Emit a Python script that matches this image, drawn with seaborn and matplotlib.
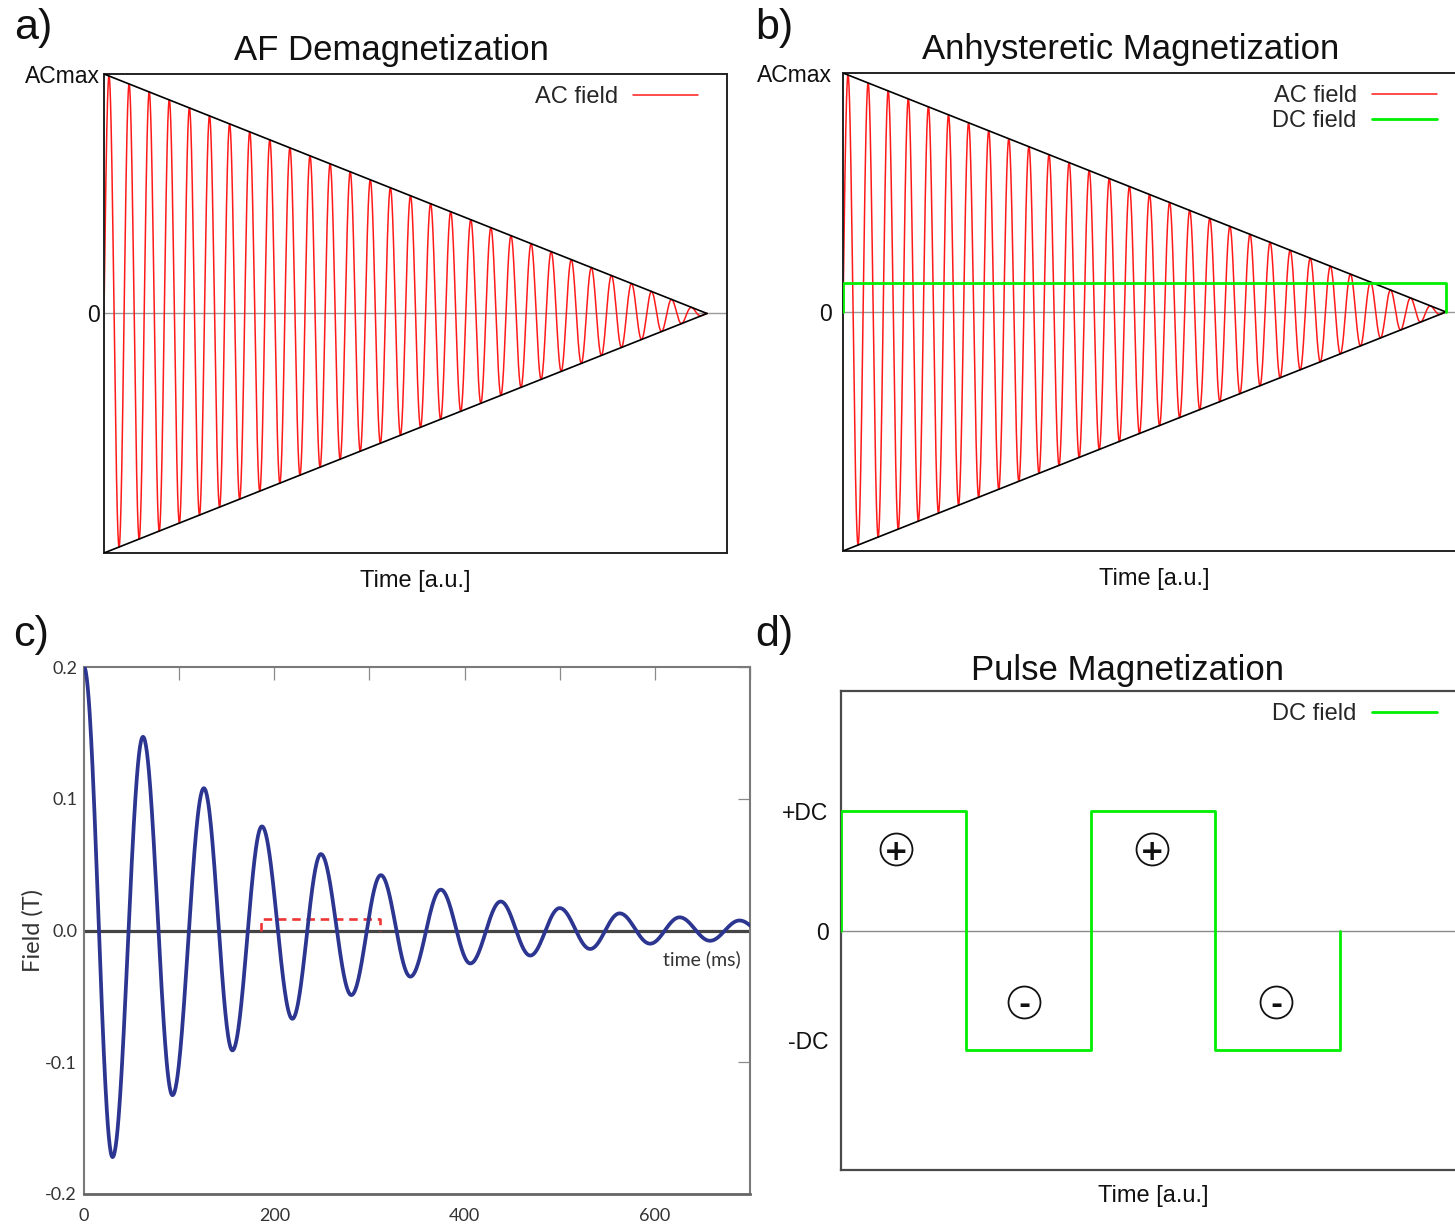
import numpy as np
import pandas as pd
import matplotlib
matplotlib.use("Agg")
import matplotlib.pyplot as plt
import matplotlib.transforms as mtransforms
import seaborn as sns

# ---------------------------------------------------------------- data
# a) / b) decaying AC field (normalised units)
ac_max = 1.0          # peak field at the start of the ramp
ac_cycles = 30        # number of AC cycles until the field reaches zero
ramp_end = 1.0        # time at which the AC envelope reaches zero
dc_bias_b = 0.12      # DC bias field in panel b, as fraction of ACmax
ramp_ytick_vals = [0, 1]
ramp_ytick_labels = ["0", "ACmax"]

# c) ringing field of the pulse coil: extrema (time in ms, field in T)
ring_t = [0, 30, 62, 93, 126, 156, 187, 219, 249, 281, 312, 343, 375,
          406, 438, 469, 500, 532, 563, 595, 626, 658, 689, 720]
ring_field = [0.200, -0.172, 0.147, -0.125, 0.108, -0.091, 0.079, -0.067,
              0.058, -0.049, 0.042, -0.035, 0.031, -0.025, 0.022, -0.019,
              0.017, -0.014, 0.013, -0.010, 0.010, -0.0078, 0.0076, -0.0060]
window_t = [186, 311]     # ms, dashed window
window_h = 0.009          # T
c_xticks = [0, 100, 200, 300, 400, 500, 600, 700]
c_xticklabels = ["0", "", "200", "", "400", "", "600", ""]
c_yticks = [-0.2, -0.1, 0.0, 0.1, 0.2]
c_yticklabels = ["-0.2", "-0.1", "0.0", "0.1", "0.2"]

# d) pulse train (levels in units of DC)
pulse_edges = [0, 1, 2, 3, 4]
pulse_levels = [1, -1, 1, -1]
sign_x = [0.44, 1.47, 2.49, 3.49]
sign_y = [0.68, -0.60, 0.68, -0.60]
sign_txt = ["+", "-", "+", "-"]
d_ytick_vals = [-1, 0, 1]
d_ytick_labels = ["-DC", "0", "+DC"]

# ---------------------------------------------------------------- style
sns.set_theme(style="white")
plt.rcParams["font.family"] = ["Liberation Sans", "DejaVu Sans"]
plt.rcParams["axes.unicode_minus"] = False

W, H = 1455, 1226
fig = plt.figure(figsize=(W / 100, H / 100), dpi=100)

RED = "#ff1a1a"
GREEN = "#00ee00"
BLUE = "#2c3590"
TITLE_SIZE = 25


def px_axes(x0, y0, x1, y1):
    return fig.add_axes([x0 / W, 1 - y1 / H, (x1 - x0) / W, (y1 - y0) / H])


ax_a = px_axes(104, 74, 727, 553)
ax_b = px_axes(843, 73, 1466, 551)
ax_c = px_axes(84, 667, 750, 1194)
ax_d = px_axes(841, 691, 1466, 1170)

# decaying AC wave and its envelope
t_wave = np.linspace(0, ramp_end, 9001)
env = ac_max * (1 - t_wave / ramp_end)
wave = env * np.sin(2 * np.pi * ac_cycles * t_wave / ramp_end)
ac_df = pd.DataFrame({"t": t_wave, "field": wave})


def ramp_panel(ax, title):
    ax.set_xlim(0, 623 / 603 * ramp_end)
    ax.set_ylim(-ac_max, ac_max)
    ax.axhline(0, color="#9a9a9a", lw=1.0, zorder=1)
    sns.lineplot(data=ac_df, x="t", y="field", ax=ax, color=RED, lw=1.1,
                 sort=False, estimator=None, label="AC field", zorder=2)
    for sgn in (1, -1):
        sns.lineplot(x=[0, ramp_end], y=[sgn * ac_max, 0], ax=ax,
                     color="black", lw=1.2, sort=False, estimator=None,
                     zorder=4)
    ax.set_xticks([])
    ax.set_yticks(ramp_ytick_vals)
    ax.set_yticklabels(ramp_ytick_labels)
    ax.set_xlabel("Time [a.u.]", fontsize=17, labelpad=12.5, color="#111")
    ax.set_ylabel("")
    ax.set_title(title, fontsize=TITLE_SIZE, x=0.462, pad=10, color="#111")
    for s in ax.spines.values():
        s.set_color("#222")
        s.set_linewidth(1.4)


def place_legend(ax, width_px, height_px, names):
    handles, labels = ax.get_legend_handles_labels()
    keep = [(h, l) for h, l in zip(handles, labels) if l in names]
    ax.legend([k[0] for k in keep], [k[1] for k in keep],
              loc="upper right",
              bbox_to_anchor=(1 - 29 / width_px, 1 - 12 / height_px),
              borderaxespad=0, borderpad=0, frameon=False, markerfirst=False,
              handlelength=2.75, handletextpad=0.65, labelspacing=0.12,
              fontsize=17)


# ---- a) AF demagnetization
ramp_panel(ax_a, "AF Demagnetization")
ax_a.tick_params(axis="y", length=0, pad=3, labelsize=16.5, labelcolor="#111")
place_legend(ax_a, 623, 479, ["AC field"])

# ---- b) anhysteretic magnetization
ramp_panel(ax_b, "Anhysteretic Magnetization")
sns.lineplot(x=[0, 0, ramp_end, ramp_end], y=[0, dc_bias_b, dc_bias_b, 0],
             ax=ax_b, color=GREEN, lw=2.0, sort=False, estimator=None,
             label="DC field", zorder=5)
ax_b.set_ylabel("")
ax_b.tick_params(axis="y", length=0, pad=8, labelsize=16.5, labelcolor="#111")
place_legend(ax_b, 623, 478, ["AC field", "DC field"])

# ---- c) ringing pulse field
tk = np.asarray(ring_t, float)
vk = np.asarray(ring_field, float)
seg_t, seg_v = [], []
for i in range(len(tk) - 1):
    s = np.linspace(0, 1, 60, endpoint=False)
    seg_t.append(tk[i] + (tk[i + 1] - tk[i]) * s)
    seg_v.append(vk[i] + (vk[i + 1] - vk[i]) * (1 - np.cos(np.pi * s)) / 2)
seg_t.append([tk[-1]])
seg_v.append([vk[-1]])
ring_df = pd.DataFrame({"time": np.concatenate(seg_t),
                        "field": np.concatenate(seg_v)})

ax_c.set_xlim(0, 700)
ax_c.set_ylim(-0.2, 0.2)
ax_c.axhline(0, color="#444444", lw=2.3, zorder=1)
sns.lineplot(data=ring_df, x="time", y="field", ax=ax_c, color=BLUE, lw=2.7,
             sort=False, estimator=None, zorder=3)
sns.lineplot(x=[window_t[0], window_t[0], window_t[1], window_t[1]],
             y=[0, window_h, window_h, 0], ax=ax_c, color="#ee3535", lw=1.9,
             sort=False, estimator=None, dashes=False, zorder=2,
             linestyle=(0, (3.2, 2.2)))
ax_c.set_xticks(c_xticks)
ax_c.set_xticklabels(c_xticklabels, fontfamily="Lato")
ax_c.set_yticks(c_yticks)
ax_c.set_yticklabels(c_yticklabels, fontfamily="Lato")
ax_c.tick_params(direction="in", length=9, width=0.9, color="#8a8a8a",
                 top=True, right=True, labelsize=13, labelcolor="#333")
ax_c.tick_params(axis="x", pad=10)
ax_c.tick_params(axis="y", pad=5)
ax_c.set_xlabel("")
ax_c.set_ylabel("Field (T)", fontsize=17, fontfamily="Lato", color="#333",
                va="center")
ax_c.yaxis.set_label_coords((33 - 84) / 666, 0.5)
ax_c.text(690, -0.022, "time (ms)", ha="right", va="center", fontsize=14,
          fontfamily="Lato", color="#333")
for name, s in ax_c.spines.items():
    s.set_color("#7a7a7a")
    s.set_linewidth(1.5)
ax_c.spines["bottom"].set_color("#666666")
ax_c.spines["bottom"].set_linewidth(2.0)

# ---- d) pulse magnetization
px_x, px_y = [pulse_edges[0]], [0]
for i, lvl in enumerate(pulse_levels):
    px_x += [pulse_edges[i], pulse_edges[i + 1]]
    px_y += [lvl, lvl]
px_x.append(pulse_edges[-1])
px_y.append(0)

ax_d.set_xlim(0, 625 / 124.75)
ax_d.set_ylim(-2, 2)
ax_d.axhline(0, color="#8a8a8a", lw=1.0, zorder=1)
sns.lineplot(x=px_x, y=px_y, ax=ax_d, color=GREEN, lw=2.0, sort=False,
             estimator=None, label="DC field", zorder=3)
for x, y, t in zip(sign_x, sign_y, sign_txt):
    ax_d.plot([x], [y], marker="o", ms=23, mfc="white", mec="#111",
              mew=1.3, zorder=4)
    ax_d.text(x, y, t, ha="center", va="center_baseline", fontsize=21,
              fontweight="bold", color="#111", zorder=5,
              fontfamily="DejaVu Sans")
ax_d.set_xticks([])
ax_d.set_yticks(d_ytick_vals)
ax_d.set_yticklabels(d_ytick_labels)
ax_d.tick_params(axis="y", length=0, pad=9, labelsize=16.5, labelcolor="#111")
# the lower level label sits a little above its line
lower = ax_d.get_yticklabels()[0]
lower.set_transform(lower.get_transform() +
                    mtransforms.ScaledTranslation(0, 10 / 100,
                                                  fig.dpi_scale_trans))
ax_d.set_xlabel("Time [a.u.]", fontsize=17, labelpad=11, color="#111")
ax_d.set_ylabel("")
ax_d.set_title("Pulse Magnetization", fontsize=TITLE_SIZE, x=0.459, pad=8,
               color="#111")
for s in ax_d.spines.values():
    s.set_color("#4a4a4a")
    s.set_linewidth(1.6)
place_legend(ax_d, 625, 479, ["DC field"])

# panel letters
for txt, x, y in [("a)", 14, 28), ("b)", 755, 28), ("c)", 13, 635),
                  ("d)", 755, 635)]:
    fig.text(x / W, 1 - y / H, txt, fontsize=31, ha="left", va="center",
             color="#111")

fig.savefig("out.png", dpi=100)
